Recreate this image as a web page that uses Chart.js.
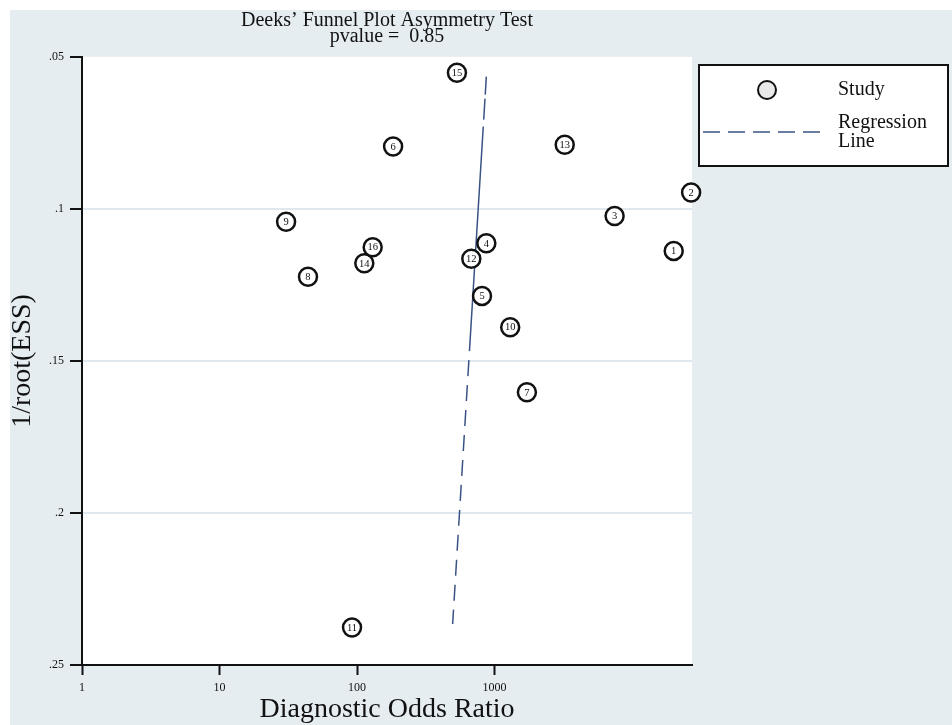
<!DOCTYPE html>
<html>
<head>
<meta charset="utf-8">
<title>Deeks' Funnel Plot Asymmetry Test</title>
<script src="https://cdn.jsdelivr.net/npm/chart.js@4.4.0/dist/chart.umd.min.js"></script>
<style>
  html, body { margin: 0; padding: 0; background: #fff; }
</style>
</head>
<body>
<canvas id="funnel" width="952" height="725"></canvas>
<script>
// values
const studyIds = [1, 2, 3, 4, 5, 6, 7, 8, 9, 10, 11, 12, 13, 14, 15, 16];
const diagnosticOdds = [20100, 26900, 7470, 872, 811, 183, 1720, 44, 30.5, 1300, 92, 678, 3240, 113, 533, 130];
const invRootEss = [0.1138, 0.0946, 0.1023, 0.1113, 0.1286, 0.0795, 0.1603, 0.1223, 0.1042, 0.1389, 0.2377, 0.1164, 0.0789, 0.1179, 0.0552, 0.1126];

// regression line end points (top, bottom)
const regressionOdds = [872, 496];
const regressionY = [0.0565, 0.2365];

const xTicks = [1, 10, 100, 1000];
const yTicks = [0.05, 0.1, 0.15, 0.2, 0.25];
const xMax = 27300;
const pValue = '0.85';

const serif = "'Liberation Serif', 'Times New Roman', serif";
const panelBg = '#e6edf1';
const gridColor = '#dfe8ee';
const ink = '#111';
const lineBlue = '#3a5384';

const studyPoints = diagnosticOdds.map((x, i) => ({ x: x, y: invRootEss[i] }));
const regressionPoints = regressionOdds.map((x, i) => ({ x: x, y: regressionY[i] }));

// grey panel behind everything, white plot region
const backdrop = {
    id: 'backdrop',
    beforeDraw(chart) {
        const { ctx, chartArea: a, width, height } = chart;
        ctx.save();
        ctx.fillStyle = '#fff';
        ctx.fillRect(0, 0, width, height);
        ctx.fillStyle = panelBg;
        ctx.fillRect(10, 10, width - 10, height - 10);
        ctx.fillStyle = '#fff';
        ctx.fillRect(a.left, a.top, a.right - a.left, a.bottom - a.top);
        ctx.restore();
    }
};

// study number inside each circle
const studyNumbers = {
    id: 'studyNumbers',
    afterDatasetsDraw(chart) {
        const ctx = chart.ctx;
        const meta = chart.getDatasetMeta(0);
        ctx.save();
        ctx.font = '10.5px ' + serif;
        ctx.fillStyle = ink;
        ctx.textAlign = 'center';
        ctx.textBaseline = 'middle';
        meta.data.forEach((pt, i) => {
            ctx.fillText(String(studyIds[i]), pt.x, pt.y + 0.5);
        });
        ctx.restore();
    }
};

// boxed legend to the right of the plot
const boxLegend = {
    id: 'boxLegend',
    afterDraw(chart) {
        const ctx = chart.ctx;
        const a = chart.chartArea;
        const left = a.right + 7, top = 65, w = 249, h = 101;
        const study = chart.data.datasets[0];
        const reg = chart.data.datasets[1];
        ctx.save();
        ctx.fillStyle = '#fff';
        ctx.fillRect(left, top, w, h);
        ctx.strokeStyle = ink;
        ctx.lineWidth = 2;
        ctx.strokeRect(left, top, w, h);

        ctx.beginPath();
        ctx.arc(left + 68, top + 25, 9, 0, Math.PI * 2);
        ctx.fillStyle = '#e9e9e9';
        ctx.fill();
        ctx.lineWidth = 2;
        ctx.strokeStyle = ink;
        ctx.stroke();

        ctx.beginPath();
        ctx.setLineDash([17, 8]);
        ctx.strokeStyle = reg.borderColor;
        ctx.lineWidth = 1.5;
        ctx.moveTo(left + 4, top + 67);
        ctx.lineTo(left + 122, top + 67);
        ctx.stroke();
        ctx.setLineDash([]);

        ctx.font = '20px ' + serif;
        ctx.fillStyle = ink;
        ctx.textBaseline = 'middle';
        ctx.fillText(study.label, left + 139, top + 25);
        const parts = reg.label.split(' ');
        ctx.fillText(parts[0], left + 139, top + 58);
        ctx.fillText(parts[1], left + 139, top + 77);
        ctx.restore();
    }
};

new Chart(document.getElementById('funnel'), {
    type: 'scatter',
    data: {
        datasets: [
            {
                label: 'Study',
                data: studyPoints,
                pointRadius: 9,
                pointHoverRadius: 9,
                pointBorderWidth: 2.5,
                pointBorderColor: ink,
                pointBackgroundColor: '#fff',
                clip: false
            },
            {
                label: 'Regression Line',
                data: regressionPoints,
                showLine: true,
                pointRadius: 0,
                borderColor: lineBlue,
                borderWidth: 1.5,
                borderDash: [18, 4, 21, 7, 225, 9, 16, 9, 16, 9, 16, 9, 16, 9, 16, 9, 16, 9, 16, 9, 16, 9, 16, 9, 16, 9, 16, 9],
                fill: false
            }
        ]
    },
    options: {
        responsive: false,
        animation: false,
        events: [],
        layout: { padding: { left: 0, top: 0, right: 260, bottom: 0 } },
        scales: {
            x: {
                type: 'logarithmic',
                min: 1,
                max: xMax,
                afterBuildTicks: s => { s.ticks = xTicks.map(v => ({ value: v })); },
                afterFit: s => { s.height = 60; },
                ticks: {
                    color: ink,
                    font: { family: serif, size: 12 },
                    padding: 6,
                    maxRotation: 0,
                    autoSkip: false,
                    callback: v => String(v)
                },
                grid: { drawOnChartArea: false, tickLength: 10, tickColor: ink, tickWidth: 2 },
                border: { color: ink, width: 2 },
                title: {
                    display: true,
                    text: 'Diagnostic Odds Ratio',
                    color: ink,
                    font: { family: serif, size: 28, lineHeight: 1 },
                    padding: { top: 0, bottom: 1 }
                }
            },
            y: {
                reverse: true,
                min: 0.05,
                max: 0.25,
                afterBuildTicks: s => { s.ticks = yTicks.map(v => ({ value: v })); },
                afterFit: s => { s.width = 82; },
                ticks: {
                    color: ink,
                    font: { family: serif, size: 12 },
                    padding: 6,
                    autoSkip: false,
                    callback: v => String(v).replace(/^0/, '')
                },
                grid: {
                    color: c => (c.tick && c.tick.value === 0.05) ? 'rgba(0,0,0,0)' : gridColor,
                    lineWidth: 2,
                    tickLength: 12,
                    tickColor: ink,
                    tickWidth: 2
                },
                border: { color: ink, width: 2 },
                title: {
                    display: true,
                    text: '1/root(ESS)',
                    color: ink,
                    font: { family: serif, size: 28, lineHeight: 1 },
                    padding: { top: 9, bottom: 0 }
                }
            }
        },
        plugins: {
            legend: { display: false },
            tooltip: { enabled: false },
            title: {
                display: true,
                fullSize: false,
                text: ['Deeks\u2019 Funnel Plot Asymmetry Test', 'pvalue =  ' + pValue],
                color: ink,
                font: { family: serif, size: 20, weight: 'normal', lineHeight: 0.76 },
                padding: { top: 13.5, bottom: 13 }
            }
        }
    },
    plugins: [backdrop, studyNumbers, boxLegend]
});
</script>
</body>
</html>
